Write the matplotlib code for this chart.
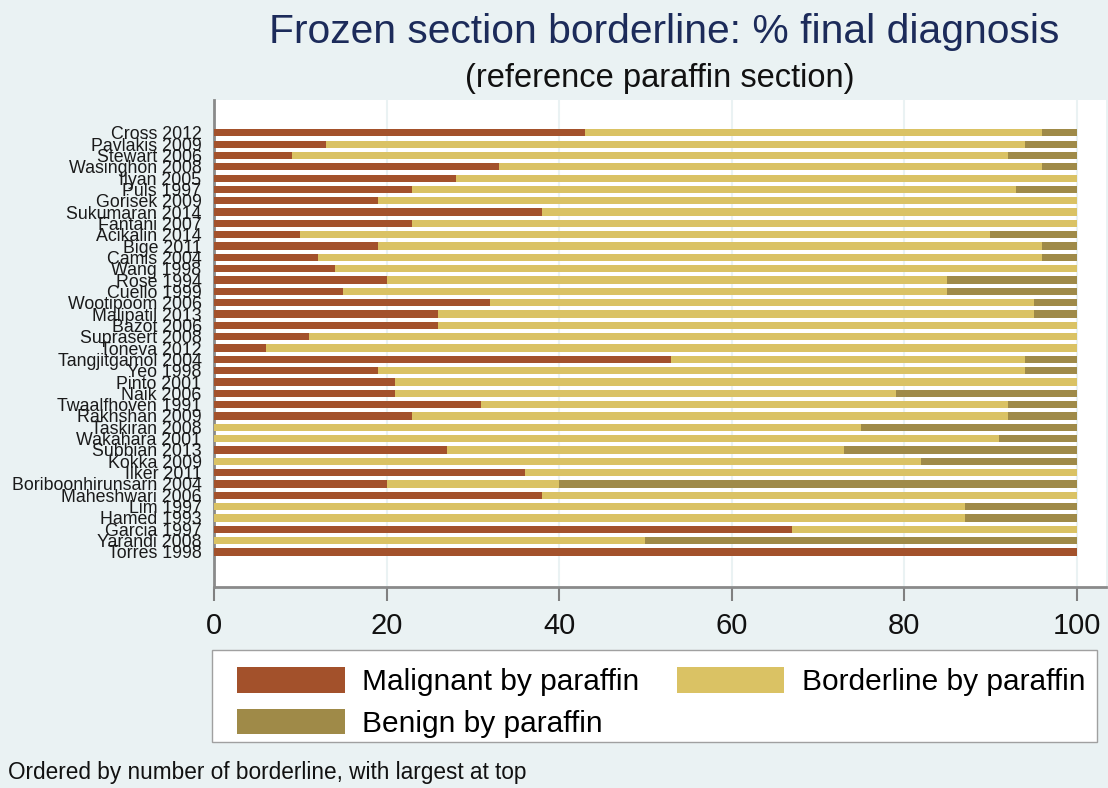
# frozen section borderline chart
import numpy as np
import matplotlib.pyplot as plt

# studies, top to bottom
studies = ['Cross 2012', 'Pavlakis 2009', 'Stewart 2006', 'Wasinghon 2008', 'Ilyan 2005',
           'Puls 1997', 'Gorisek 2009', 'Sukumaran 2014', 'Fantani 2007', 'Acikalin 2014',
           'Bige 2011', 'Camis 2004', 'Wang 1998', 'Rose 1994', 'Cuello 1999',
           'Wootipoom 2006', 'Malipatil 2013', 'Bazot 2006', 'Suprasert 2008', 'Toneva 2012',
           'Tangjitgamol 2004', 'Yeo 1998', 'Pinto 2001', 'Naik 2006', 'Twaalfhoven 1991',
           'Rakhshan 2009', 'Taskiran 2008', 'Wakahara 2001', 'Subbian 2013', 'Kokka 2009',
           'Ilker 2011', 'Boriboonhirunsarn 2004', 'Maheshwari 2006', 'Lim 1997', 'Hamed 1993',
           'Garcia 1997', 'Yarandi 2008', 'Torres 1998']

# % of final diagnosis
malignant = [43, 13, 9, 33, 28, 23, 19, 38, 23, 10, 19, 12, 14, 20, 15, 32, 26, 26, 11, 6,
             53, 19, 21, 21, 31, 23, 0, 0, 27, 0, 36, 20, 38, 0, 0, 67, 0, 100]
borderline = [53, 81, 83, 63, 72, 70, 81, 62, 77, 80, 77, 84, 86, 65, 70, 63, 69, 74, 89, 94,
              41, 75, 79, 58, 61, 69, 75, 91, 46, 82, 64, 20, 62, 87, 87, 33, 50, 0]
benign = [4, 6, 8, 4, 0, 7, 0, 0, 0, 10, 4, 4, 0, 15, 15, 5, 5, 0, 0, 0,
          6, 6, 0, 21, 8, 8, 25, 9, 27, 18, 0, 60, 0, 13, 13, 0, 50, 0]

ticks = [0, 20, 40, 60, 80, 100]

bg = '#eaf2f3'
c_mal = '#a3512b'
c_bord = '#dac264'
c_ben = '#9f8a48'

plt.rcParams['font.family'] = ['Liberation Sans', 'DejaVu Sans']

fig = plt.figure(figsize=(11.08, 7.88), dpi=100, facecolor=bg)
ax = fig.add_axes([214 / 1108, 1 - 587 / 788, (1106 - 214) / 1108, (587 - 100) / 788])
ax.set_facecolor('white')

y = np.arange(len(studies))
mal = np.array(malignant)
bord = np.array(borderline)
ben = np.array(benign)
h = 0.64
ax.barh(y, mal, height=h, color=c_mal, label='Malignant by paraffin', zorder=3)
ax.barh(y, bord, left=mal, height=h, color=c_bord, label='Borderline by paraffin', zorder=3)
ax.barh(y, ben, left=mal + bord, height=h, color=c_ben, label='Benign by paraffin', zorder=3)

ax.set_xlim(0, 103.4)
ax.set_ylim(len(studies) - 1 + 3.1, -2.9)
ax.set_xticks(ticks)
ax.set_xticklabels([str(t) for t in ticks], fontsize=21)
ax.set_yticks(y)
ax.set_yticklabels(studies, fontsize=12.8, color='#1a1a1a')
ax.tick_params(axis='y', length=0, pad=9)
ax.tick_params(axis='x', length=10, width=1.5, color='#808080', pad=8, labelcolor='#111111')
ax.xaxis.grid(True, color=bg, linewidth=1.5, zorder=0)
ax.set_axisbelow(True)

for s in ['top', 'right']:
    ax.spines[s].set_visible(False)
for s in ['left', 'bottom']:
    ax.spines[s].set_color('#8a8a8a')
    ax.spines[s].set_linewidth(2)

# titles
fig.text(664 / 1108, 1 - 32 / 788, 'Frozen section borderline: % final diagnosis',
         fontsize=29.3, color='#1c2b5a', ha='center', va='center')
fig.text(660 / 1108, 1 - 78 / 788, '(reference paraffin section)',
         fontsize=23.5, color='#111111', ha='center', va='center')

# legend box drawn by hand, entries placed inside it
box = plt.Rectangle((212 / 1108, 1 - 742 / 788), (1097 - 212) / 1108, 92 / 788,
                    transform=fig.transFigure, facecolor='white', edgecolor='#a0a0a0',
                    linewidth=1, zorder=0)
fig.patches.append(box)

hd, lb = ax.get_legend_handles_labels()
order = [0, 2, 1]
leg = fig.legend([hd[i] for i in order], [lb[i] for i in order], ncol=2,
                 loc='upper left', bbox_to_anchor=(237 / 1108, 1 - 667 / 788),
                 fontsize=21.5, frameon=False,
                 handlelength=3.6, handleheight=0.94, handletextpad=0.6,
                 columnspacing=1.25, labelspacing=0.43, borderpad=0, borderaxespad=0)

fig.text(8 / 1108, 1 - 773 / 788, 'Ordered by number of borderline, with largest at top',
         fontsize=16.3, color='#111111', ha='left', va='center')

plt.savefig('out.png', dpi=100, facecolor=bg)
